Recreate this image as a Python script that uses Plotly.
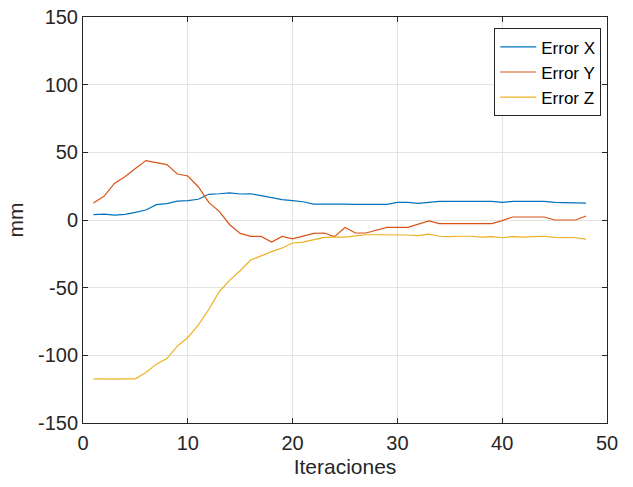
import plotly.graph_objects as go

iteraciones = list(range(1, 49))

error_x = [3.9, 4.4, 3.6, 4.1, 5.6, 7.4, 11.3, 12.1, 14.0, 14.3,
           15.3, 19.0, 19.4, 20.0, 19.2, 19.4, 18.0, 16.5, 15.0, 14.3,
           13.5, 11.8, 11.8, 12.3, 11.8, 11.6, 11.6, 11.1, 11.6, 13.0,
           13.0, 12.3, 13.0, 13.8, 13.8, 13.8, 13.8, 13.8, 13.8, 13.0,
           13.8, 13.8, 13.8, 13.8, 13.0, 13.0, 13.0, 12.5]

error_y = [12.6, 17.5, 27.0, 32.0, 38.0, 43.9, 42.4, 40.9, 34.0, 32.5,
           24.6, 13.0, 6.4, -3.5, -9.9, -12.1, -12.1, -16.3, -12.1, -14.0,
           -11.9, -9.9, -9.6, -12.3, -5.5, -9.6, -9.6, -7.7, -5.5, -5.5,
           -5.5, -3.0, -0.7, -2.7, -2.7, -2.7, -2.7, -2.7, -2.7, -0.5,
           2.2, 2.2, 2.2, 2.2, 0.0, 0.0, 0.0, 3.0]

error_z = [-117.4, -117.6, -117.6, -117.4, -117.4, -112.7, -106.5, -102.4, -93.2, -86.8,
           -77.7, -66.1, -53.0, -44.4, -37.5, -29.6, -26.4, -23.4, -20.7, -17.0,
           -16.3, -14.8, -12.9, -12.6, -12.6, -11.8, -10.9, -10.9, -10.9, -10.9,
           -11.1, -11.6, -10.5, -12.0, -12.3, -12.0, -12.0, -12.6, -12.3, -13.1,
           -12.3, -12.6, -12.3, -12.0, -12.8, -12.8, -13.1, -14.1]

series = [
    ("Error X", error_x, "#0072BD"),
    ("Error Y", error_y, "#D95319"),
    ("Error Z", error_z, "#EDB120"),
]

x_ticks = [0, 10, 20, 30, 40, 50]
y_ticks = [-150, -100, -50, 0, 50, 100, 150]
y_tick_text = ["-150", "-100", "-50", "0", "50", "100", "150"]

FONT = "Liberation Sans, Arial, sans-serif"

fig = go.Figure()
for name, values, color in series:
    fig.add_trace(go.Scatter(
        x=iteraciones, y=values, mode="lines", name=name,
        line=dict(color=color, width=1.2),
    ))

axis_common = dict(
    showline=True, linecolor="#262626", linewidth=1, mirror="ticks",
    ticks="inside", ticklen=5, tickcolor="#262626", tickwidth=1,
    showgrid=True, gridcolor="#E3E3E3", gridwidth=1,
    zeroline=False, automargin=False,
    tickfont=dict(family=FONT, size=20, color="#262626"),
    title_font=dict(family=FONT, size=21, color="#262626"),
)

fig.update_xaxes(range=[0, 50], tickvals=x_ticks, title_text="Iteraciones",
                 title_standoff=6, ticklabelstandoff=2, **axis_common)
fig.update_yaxes(range=[-150, 150], tickvals=y_ticks, ticktext=y_tick_text,
                 title_text="mm", title_standoff=8, **axis_common)

fig.update_layout(
    width=633, height=487,
    margin=dict(l=83, r=26, t=17, b=64, autoexpand=False),
    paper_bgcolor="white", plot_bgcolor="white",
    showlegend=True,
    legend=dict(
        x=0.989, y=0.972, xanchor="right", yanchor="top",
        bgcolor="white", bordercolor="#262626", borderwidth=1,
        font=dict(family=FONT, size=17, color="#000000"),
        itemwidth=36, tracegroupgap=0,
    ),
)

fig.write_html("out.html")
